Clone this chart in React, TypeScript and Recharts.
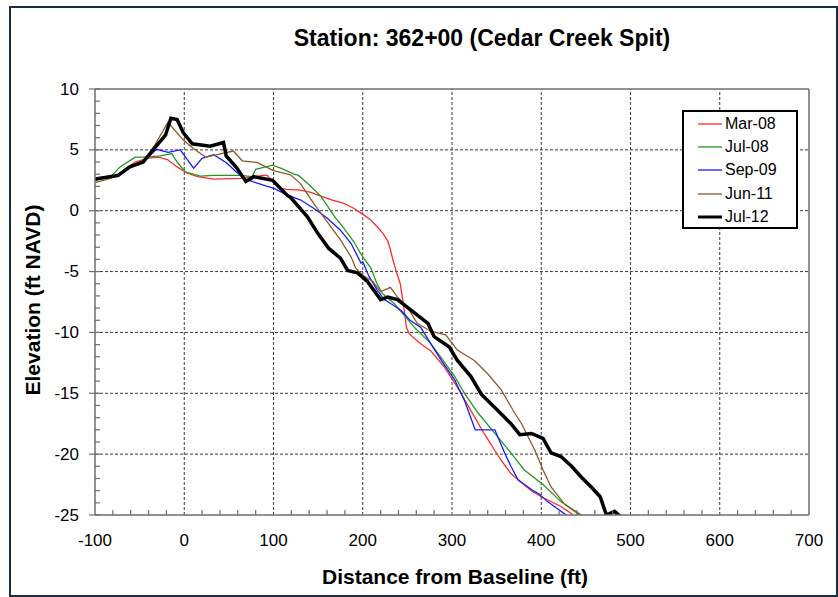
import React from 'react';
import { LineChart, Line, XAxis, YAxis, ReferenceLine, Legend } from 'recharts';

// profile surveys, [distance ft, elevation ft NAVD]
const MAR_08 = [
  [-100, 2.5], [-76, 2.9], [-55, 4.0], [-42, 4.3], [-29, 4.4], [-19, 4.2], [-8, 3.6], [3, 3.1],
  [15, 2.8], [33, 2.6], [63, 2.65], [89, 2.9], [93, 2.9], [105, 1.9], [115, 1.75], [130, 1.7],
  [142, 1.5], [153, 1.2], [165, 0.9], [179, 0.6], [190, 0.2], [198, -0.2], [208, -0.7], [216, -1.3],
  [223, -1.9], [228, -2.5], [231, -3.2], [234, -4.1], [238, -5.1], [242, -6.0], [245, -7.4],
  [249, -9.6], [252, -10.1], [258, -10.5], [266, -11.0], [276, -11.5], [291, -12.8], [306, -14.5],
  [321, -16.4], [336, -18.3], [348, -19.7], [355, -20.5], [366, -21.6], [374, -22.1], [389, -23.0],
  [400, -23.5], [422, -24.3], [434, -24.9], [440, -25.3],
];

const JUL_08 = [
  [-100, 2.5], [-81, 2.9], [-72, 3.6], [-55, 4.4], [-42, 4.4], [-27, 4.5], [-14, 4.7], [-8, 4.0],
  [1, 3.2], [18, 2.85], [33, 2.9], [63, 2.9], [76, 2.8], [80, 3.4], [99, 3.75], [108, 3.5],
  [123, 3.0], [128, 2.9], [138, 2.25], [153, 1.2], [168, -0.45], [179, -1.45], [190, -2.55],
  [200, -3.8], [209, -4.7], [216, -6.0], [222, -6.8], [235, -7.6], [258, -9.6], [276, -10.9],
  [288, -12.1], [303, -13.6], [314, -15.0], [329, -16.6], [348, -18.3], [366, -19.9], [381, -21.3],
  [402, -22.5], [422, -23.9], [443, -25.0], [448, -25.3],
];

const SEP_09 = [
  [-100, 2.6], [-76, 2.9], [-60, 3.7], [-45, 4.1], [-31, 5.05], [-18, 4.8], [-4.5, 5.0], [10.5, 3.5],
  [20, 4.3], [33, 4.6], [48, 3.9], [58, 3.2], [68.5, 2.6], [80, 2.3], [93, 2.0], [100, 1.85],
  [112, 1.4], [126, 1.0], [130, 0.9], [145, 0.2], [160, -0.6], [175, -1.6], [187, -2.7], [198, -4.3],
  [200, -4.2], [207, -5.4], [216, -6.5], [224, -7.3], [233, -7.7], [243, -8.2], [253, -9.0],
  [265, -9.6], [276, -10.9], [288, -12.3], [303, -13.9], [314, -15.6], [320, -16.8], [326, -18.0],
  [348, -18.0], [359, -19.9], [366, -21.0], [374, -22.1], [389, -22.9], [398, -23.3], [407, -23.9],
  [428, -25.0], [432, -25.3],
];

const JUN_11 = [
  [-100, 2.3], [-76, 2.8], [-57, 3.75], [-44, 4.2], [-33, 5.4], [-18, 7.3], [-14, 6.9], [-1, 5.8],
  [10.5, 5.1], [24, 4.4], [37, 4.6], [55, 4.9], [65, 4.1], [82, 3.95], [100, 3.3], [119, 2.95],
  [130, 2.25], [145, 0.6], [160, -0.9], [175, -2.4], [187, -3.8], [192, -4.7], [200, -5.3],
  [211, -5.8], [220, -6.65], [231, -6.3], [239, -7.1], [250, -7.9], [261, -9.25], [276, -9.9],
  [293, -10.2], [306, -11.45], [325, -12.3], [340, -13.4], [355, -14.7], [370, -16.6], [378, -17.5],
  [393, -19.7], [402, -21.3], [411, -22.7], [426, -24.1], [447, -25.1], [450, -25.3],
];

const JUL_12 = [
  [-100, 2.6], [-74, 2.9], [-61, 3.6], [-46, 4.0], [-35, 5.0], [-21, 6.2], [-15, 7.6], [-8, 7.5],
  [-1, 6.4], [9, 5.5], [29, 5.3], [44, 5.6], [47, 4.5], [59, 3.5], [69, 2.4], [78, 2.8], [99, 2.5],
  [115, 1.3], [119, 1.1], [138, -0.5], [150, -1.9], [162, -3.1], [175, -3.9], [183, -4.9],
  [194, -5.1], [205, -5.8], [220, -7.3], [228, -7.1], [239, -7.3], [258, -8.4], [273, -9.25],
  [280, -10.35], [297, -11.2], [306, -12.3], [321, -13.6], [333, -15.1], [351, -16.4], [366, -17.5],
  [376, -18.4], [389, -18.3], [402, -18.7], [411, -19.9], [422, -20.2], [434, -21.0], [445, -21.9],
  [456, -22.7], [466, -23.5], [473, -25.0], [482, -24.7], [490, -25.2],
];

const SERIES_NAMES = ['Mar-08', 'Jul-08', 'Sep-09', 'Jun-11', 'Jul-12'];
const SERIES_DATA = [MAR_08, JUL_08, SEP_09, JUN_11, JUL_12];
const SERIES_COLORS = ['#ff2a2a', '#229922', '#1a1aff', '#8b5a2b', '#000000'];
const SERIES_WIDTHS = [1.3, 1.3, 1.3, 1.3, 3.5];

const X_LABELS = [-100, 0, 100, 200, 300, 400, 500, 600, 700];
const Y_LABELS = [-25, -20, -15, -10, -5, 0, 5, 10];

const X_MINOR: number[] = [];
for (let v = -100; v <= 700; v += 20) X_MINOR.push(v);
const Y_MINOR: number[] = [];
for (let v = -25; v <= 10; v += 1) Y_MINOR.push(v);

const FONT = '"Liberation Sans", Arial, Helvetica, sans-serif';
const AXIS = '#6e6e6e';
const GRID = '#3a3a3a';

const XTick = (props: any) => {
  const { x, y, payload } = props;
  const major = X_LABELS.includes(payload.value);
  return (
    <g>
      {!major && <line x1={x} x2={x} y1={y} y2={y - 5} stroke={AXIS} strokeWidth={1.2} />}
      {major && (
        <text x={x} y={y + 25} textAnchor="middle" dominantBaseline="central"
          fontSize={17} fontFamily={FONT} fill="#000">
          {payload.value}
        </text>
      )}
    </g>
  );
};

const YTick = (props: any) => {
  const { x, y, payload } = props;
  const major = Y_LABELS.includes(payload.value);
  return (
    <g>
      {major
        ? <line x1={x - 6} x2={x + 5} y1={y} y2={y} stroke={AXIS} strokeWidth={1.2} />
        : <line x1={x} x2={x + 5} y1={y} y2={y} stroke={AXIS} strokeWidth={1.2} />}
      {major && (
        <text x={x - 16} y={y} textAnchor="end" dominantBaseline="central"
          fontSize={17} fontFamily={FONT} fill="#000">
          {payload.value}
        </text>
      )}
    </g>
  );
};

const renderLegend = () => (
  <div style={{
    width: 116, height: 119, boxSizing: 'border-box', border: '2px solid #000',
    background: '#fff', fontFamily: FONT, fontSize: 16,
  }}>
    {SERIES_NAMES.map((name, i) => (
      <div key={name} style={{ display: 'flex', alignItems: 'center', height: 23.4 }}>
        <svg width={40} height={8} style={{ flex: 'none' }}>
          <line x1={14} x2={38} y1={4} y2={4} stroke={SERIES_COLORS[i]}
            strokeWidth={i === 4 ? 3 : 1.3} />
        </svg>
        <span style={{ color: '#000', marginLeft: 1 }}>{name}</span>
      </div>
    ))}
  </div>
);

export default function App() {
  return (
    <div style={{
      position: 'absolute', left: 0, top: 0, width: 838, height: 597,
      background: '#fff', fontFamily: FONT, overflow: 'hidden',
    }}>
      <div style={{
        position: 'absolute', left: 9, top: 6, width: 829, height: 591,
        boxSizing: 'border-box', border: '2px solid #1d2b45',
      }} />
      <div style={{
        position: 'absolute', left: 232, top: 23, width: 500, textAlign: 'center',
        fontSize: 23, fontWeight: 'bold', lineHeight: '30px',
      }}>
        Station: 362+00 (Cedar Creek Spit)
      </div>
      <div style={{
        position: 'absolute', left: 255, top: 563, width: 400, textAlign: 'center',
        fontSize: 21, fontWeight: 'bold', lineHeight: '28px',
      }}>
        Distance from Baseline (ft)
      </div>
      <div style={{
        position: 'absolute', left: 33 - 150, top: 300 - 14, width: 300, textAlign: 'center',
        fontSize: 21, fontWeight: 'bold', lineHeight: '28px', transform: 'rotate(-90deg)',
      }}>
        Elevation (ft NAVD)
      </div>
      <div style={{ position: 'absolute', left: 0, top: 0 }}>
        <LineChart width={838} height={597} margin={{ top: 89, right: 29, bottom: 52, left: 35 }}>
          <XAxis type="number" dataKey="x" domain={[-100, 700]} ticks={X_MINOR} interval={0}
            allowDataOverflow height={30} tickSize={0} tickMargin={0} tickLine={false}
            axisLine={{ stroke: AXIS, strokeWidth: 1.5 }} tick={<XTick />} />
          <YAxis type="number" dataKey="y" domain={[-25, 10]} ticks={Y_MINOR} interval={0}
            allowDataOverflow width={60} tickSize={0} tickMargin={0} tickLine={false}
            axisLine={{ stroke: AXIS, strokeWidth: 1.5 }} tick={<YTick />} />
          {X_LABELS.slice(1, -1).map((v) => (
            <ReferenceLine key={`gx${v}`} x={v} stroke={GRID} strokeDasharray="3 2" />
          ))}
          {Y_LABELS.slice(1, -1).map((v) => (
            <ReferenceLine key={`gy${v}`} y={v} stroke={GRID} strokeDasharray="3 2" />
          ))}
          <ReferenceLine x={700} stroke={AXIS} strokeWidth={1.5} />
          <ReferenceLine y={10} stroke={AXIS} strokeWidth={1.5} />
          {SERIES_NAMES.map((name, i) => (
            <Line key={name} name={name}
              data={SERIES_DATA[i].map(([x, y]) => ({ x, y }))}
              dataKey="y" type="linear" stroke={SERIES_COLORS[i]} strokeWidth={SERIES_WIDTHS[i]}
              dot={false} activeDot={false} isAnimationActive={false} />
          ))}
          <Legend layout="vertical" verticalAlign="middle" align="center" content={renderLegend}
            wrapperStyle={{ left: 682, top: 110, width: 116, height: 119 }} />
        </LineChart>
      </div>
    </div>
  );
}
